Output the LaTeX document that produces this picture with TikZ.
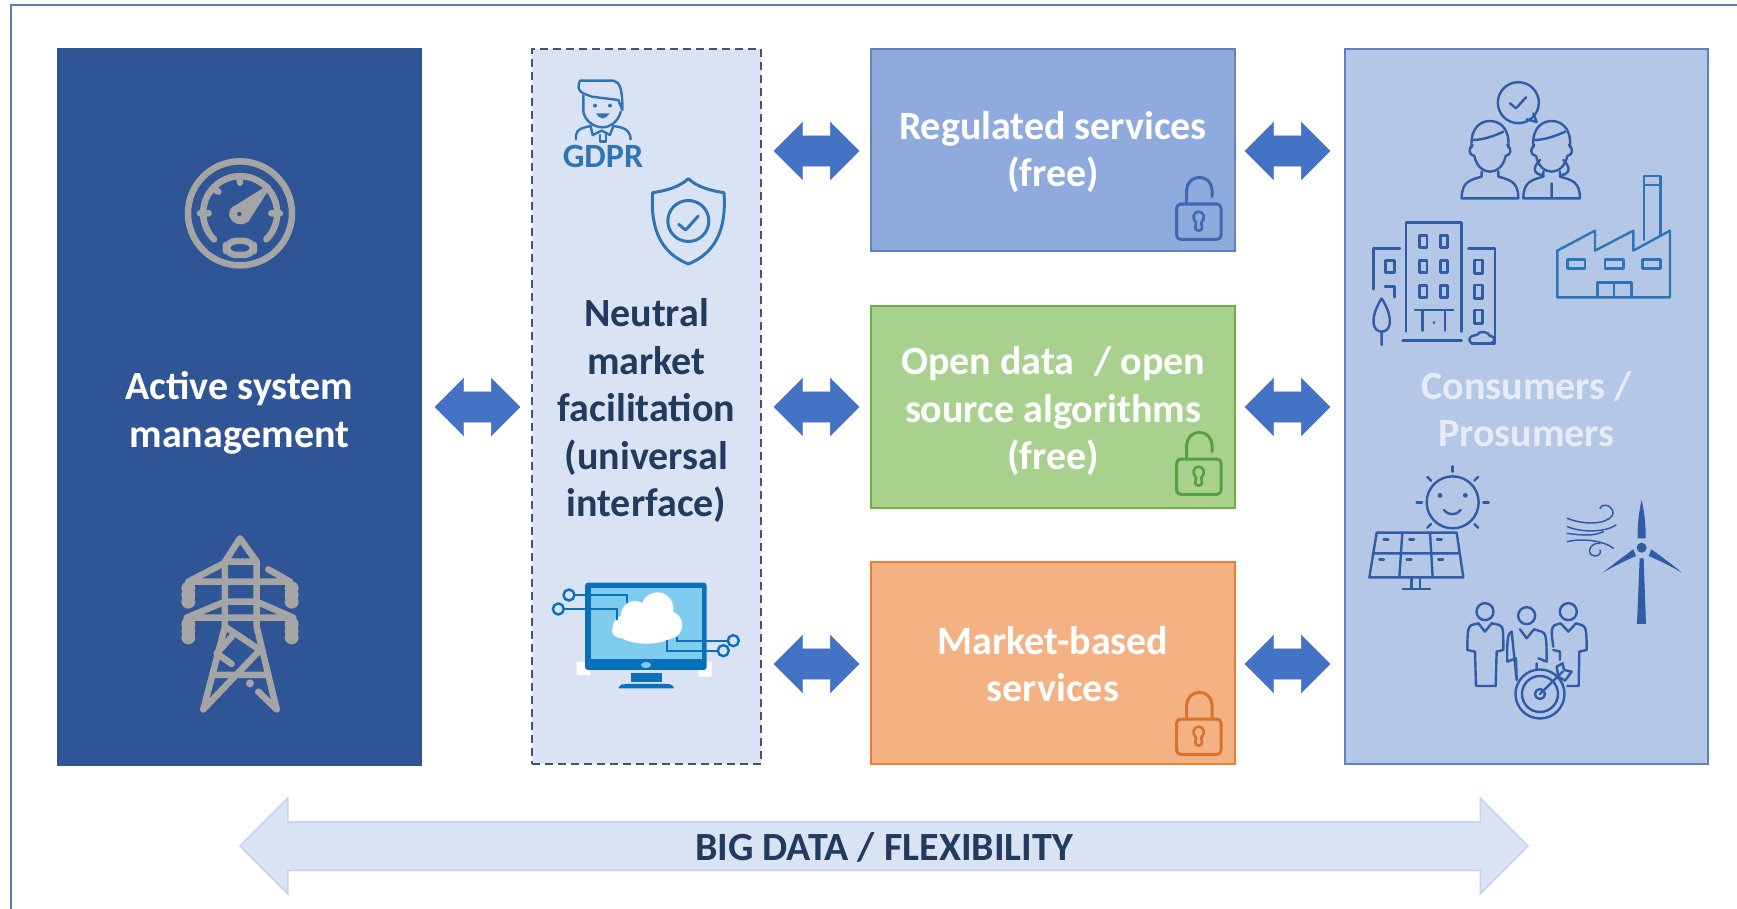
\documentclass[tikz,border=0pt]{standalone}
\usepackage{fontspec}
\setmainfont{Carlito}
\usepackage{tikz}
\usetikzlibrary{shapes.arrows,positioning,calc}
\definecolor{framecol}{HTML}{5B7DB5}
\definecolor{asmblue}{HTML}{2F5597}
\definecolor{palefill}{HTML}{DAE3F3}
\definecolor{dashcol}{HTML}{44546A}
\definecolor{regfill}{HTML}{8FAADC}
\definecolor{regline}{HTML}{5F82BC}
\definecolor{openfill}{HTML}{A9D18E}
\definecolor{openline}{HTML}{70AD47}
\definecolor{mktfill}{HTML}{F4B183}
\definecolor{mktline}{HTML}{ED7D31}
\definecolor{conslfill}{HTML}{B4C7E7}
\definecolor{arrowcol}{HTML}{4472C4}
\definecolor{bigline}{HTML}{C5D3EC}
\definecolor{iconblue}{HTML}{2F5CA5}
\definecolor{icontwo}{HTML}{2E75B6}
\definecolor{icongrey}{HTML}{A5A5A5}
\definecolor{screencol}{HTML}{7FCDEE}
\definecolor{pccol}{HTML}{0A70BC}
\definecolor{lockgreen}{HTML}{55A040}
\definecolor{lockorange}{HTML}{D9722C}
\definecolor{lockblue}{HTML}{3F68B0}
\definecolor{greytext}{HTML}{E6ECF7}
\definecolor{darktext}{HTML}{223A5E}
\tikzset{
    block/.style = {draw, rectangle, inner sep=0pt, line width=1.6pt},
    blocktext/.style = {align=center, inner sep=0pt, font=\fontsize{40}{47.5}\selectfont\bfseries},
    flow/.style = {shape=double arrow, fill=arrowcol, draw=arrowcol, inner xsep=0pt, inner ysep=15pt, minimum height=85pt, minimum width=57pt,
        double arrow head extend=13.5pt, double arrow tip angle=90},
    icon/.style 2 args = {shift={(#1,#2)}, x=.3333pt, y=-.3333pt},
    iconline/.style = {line width=#1, line cap=round, line join=round}
}
% the shackle goes on top of the body
\def\lockbody#1{%
    \draw [#1,iconline=3pt,rounded corners=4pt] (110,132) rectangle (243,238);
    \draw [#1,iconline=2.6pt] (168,188) .. controls (155,175) and (160,155) .. (176,155) .. controls (192,155) and (197,175) .. (184,188) -- (186,205) .. controls (184,214) and (168,214) .. (166,205) -- cycle;
}
\begin{document}
\begin{tikzpicture}[x=1pt,y=-1pt]
    \useasboundingbox (0,0) rectangle (1737,908);
    \draw [framecol,line width=2pt] (11,930) -- (11,5) -- (1760,5);

    % main blocks
    \node [block,draw=asmblue,fill=asmblue,minimum width=363pt,minimum height=716pt] (asm) at (239.5,407) {};
    \node [block,draw=dashcol,fill=palefill,line width=2.4pt,minimum width=229pt,minimum height=715pt,dash pattern=on 8pt off 5pt] (nmf) at (646.5,406.5) {};
    \node [block,draw=regline,fill=regfill,minimum width=364pt,minimum height=202pt] (reg) at (1053,150) {};
    \node [block,draw=openline,fill=openfill,minimum width=364pt,minimum height=202pt] (open) at (1053,407) {};
    \node [block,draw=mktline,fill=mktfill,minimum width=364pt,minimum height=202pt] (mkt) at (1053,663) {};
    \node [block,draw=regline,fill=conslfill,minimum width=363pt,minimum height=715pt] (cons) at (1526.5,406.5) {};

    \node [blocktext,text=white] (asmtext) at ($(asm.center)+(0,6)$) {Active system\\management};
    \node [blocktext,text=darktext] (nmftext) at ($(nmf.center)+(0,4)$) {Neutral\\market\\facilitation\\(universal\\interface)};
    \node [blocktext,text=white] (regtext) at ($(reg.center)+(0,2)$) {Regulated services\\(free)};
    \node [blocktext,text=white] (opentext) at ($(open.center)+(0,4)$) {Open data\hspace{.5em}/ open\\source algorithms\\(free)};
    \node [blocktext,text=white] (mkttext) at ($(mkt.center)+(0,1)$) {Market-based\\services};
    \node [blocktext,text=greytext] (constext) at ($(cons.center)+(0,2.5)$) {Consumers /\\Prosumers};

    % arrows between the blocks
    \node [flow] (asmnmf) at (477.5,407) {};
    \foreach \a/\y in {reg/151,open/407,mkt/664}{
        \node [flow] (nmf\a) at (816.5,\y) {};
        \node [flow] (\a cons) at (1287.5,\y) {};
    }
    % big arrow
    \node [shape=double arrow,fill=palefill,draw=bigline,line width=1.5pt,inner xsep=0pt,inner ysep=6pt,text height=32pt,text depth=3pt,minimum height=1288pt,minimum width=94pt,
        double arrow head extend=23.5pt,double arrow tip angle=90,font=\fontsize{40}{40}\selectfont\bfseries,text=darktext] (bigdata) at (884,846) {BIG DATA / FLEXIBILITY};

    % locks
    \begin{scope}[icon={1140}{160}]
        \lockbody{lockblue}
        \draw [lockblue,iconline=3pt] (140,132) -- (140,90) arc (180:0:12.7pt) -- (216,110);
    \end{scope}
    \begin{scope}[icon={1140}{415}]
        \lockbody{lockgreen}
        \draw [lockgreen,iconline=3pt] (140,132) -- (140,90) arc (180:0:12.7pt) -- (216,110);
    \end{scope}
    \begin{scope}[icon={1140}{675}]
        \lockbody{lockorange}
        \draw [lockorange,iconline=3pt] (140,132) -- (140,90) arc (180:0:12.7pt) -- (216,132);
    \end{scope}

    % gauge
    \begin{scope}[icon={150}{130},icongrey,iconline=6.5pt]
        \draw (270,250) circle (52pt);
        \draw (192,328) arc (225:-45:37pt);
        \draw [rounded corners=10pt] (228,333) rectangle (312,375);
        \draw (270,145) -- (270,158) (192,178) -- (205,185) (150,250) -- (176,250) (390,250) -- (364,250);
        \draw [line width=3pt,fill=icongrey,even odd rule] (358,168) -- (298,262) .. controls (290,285) and (250,285) .. (242,255) .. controls (241,240) and (250,232) .. (262,228) -- cycle (268,252) circle (4pt);
    \end{scope}

    % pylon
    \begin{scope}[icon={150}{520},icongrey,iconline=6.5pt]
        \draw (160,568) -- (225,320) -- (225,125) -- (270,55) -- (320,125) -- (320,320) -- (380,568) (225,125) -- (320,125);
        \draw (225,128) -- (115,185) -- (420,185) -- (355,148);
        \draw (225,245) -- (110,293) -- (430,293) -- (320,245) -- (225,245);
        \foreach \x in {115,425}{
            \foreach \y in {205,225,245,312,332,352}{
                \fill (\x,\y) circle (7pt);
            }
        }
        \draw (225,320) -- (330,390) -- (160,568) (200,400) -- (245,350) (200,400) -- (245,432) (190,465) -- (345,465) (325,515) -- (380,568);
        \fill (300,490) circle (4pt);
    \end{scope}

    % GDPR man
    \begin{scope}[icon={520}{40},icontwo,iconline=2.4pt]
        \draw (180,122) -- (280,122) .. controls (300,125) and (308,150) .. (307,210) -- (295,180) -- (215,170) -- (190,160) .. controls (170,150) and (175,135) .. cycle;
        \draw (190,165) -- (190,215) .. controls (195,245) and (225,262) .. (247,262) .. controls (270,262) and (295,245) .. (302,215);
        \draw (168,298) -- (168,285) .. controls (170,265) and (195,262) .. (212,258) -- (218,285) -- (245,272) -- (270,285) -- (280,258) .. controls (305,262) and (330,265) .. (332,298);
        \draw (240,285) -- (240,305) -- (258,305) -- (258,285);
        \fill (225,197) circle (2pt) (270,197) circle (2pt);
        \fill (228,220) .. controls (240,240) and (258,240) .. (268,220) -- cycle;
    \end{scope}
    \node [text=icontwo,font=\fontsize{34}{34}\selectfont\bfseries,inner sep=0pt] (gdpr) at (603,156) {GDPR};

    % shield
    \begin{scope}[icon={520}{40},icontwo,iconline=3pt]
        \draw (505,416) .. controls (530,440) and (570,452) .. (612,458) .. controls (620,570) and (585,640) .. (505,672) .. controls (425,640) and (390,570) .. (398,458) .. controls (440,452) and (480,440) .. cycle;
        \draw (505,543) circle (20.5pt);
        \draw (476,553) -- (497,570) -- (535,528);
    \end{scope}

    % computer
    \begin{scope}[icon={520}{560}]
        \fill [white] (170,305) rectangle (210,345) (535,305) rectangle (575,350);
        \fill [pccol,rounded corners=3pt] (195,68) rectangle (560,330);
        \fill [screencol] (212,85) rectangle (545,297);
        \fill [pccol] (332,338) rectangle (425,365);
        \fill [pccol] (295,385) .. controls (300,372) and (310,372) .. (320,372) -- (440,372) .. controls (450,372) and (460,375) .. (462,385) -- cycle;
        \fill [screencol] (378,315) ellipse (5pt and 3pt);
        \fill [white] (300,210) circle (8pt) (345,165) circle (14pt) (412,145) circle (16pt) (445,195) circle (14pt) (380,200) ellipse (34pt and 17pt);
        \draw [pccol,line width=2.2pt] (147,105) -- (322,105) -- (322,130) (115,147) -- (292,147) -- (292,180)
            (470,232) -- (470,242) -- (640,242) (442,240) -- (442,272) -- (610,272);
        \draw [pccol,line width=2.4pt,fill=palefill] (147,105) circle (5.5pt) (115,147) circle (5.5pt) (640,242) circle (5.5pt) (610,272) circle (5.5pt);
    \end{scope}

    % two people
    \begin{scope}[icon={1340}{60},iconblue,iconline=2.4pt]
        \draw (535,128) ellipse (20.5pt and 20.5pt);
        \draw (560,178) -- (590,186) -- (580,160);
        \draw (510,130) -- (528,145) -- (558,112);
        \foreach \x in {450,635}{
            \draw (\x-55,262) .. controls (\x-60,200) and (\x-25,183) .. (\x,183) .. controls (\x+25,183) and (\x+60,200) .. (\x+55,262);
            \draw (\x-50,240) .. controls (\x-20,240) and (\x+20,225) .. (\x+40,215);
            \draw (\x-52,255) .. controls (\x-65,265) and (\x-65,285) .. (\x-47,288) .. controls (\x-40,320) and (\x-20,335) .. (\x,335)
                .. controls (\x+20,335) and (\x+40,320) .. (\x+47,288) .. controls (\x+65,285) and (\x+65,265) .. (\x+52,255);
            \draw (\x-25,335) -- (\x-25,350) .. controls (\x-60,360) and (\x-85,365) .. (\x-85,415) -- (\x+85,415) .. controls (\x+85,365) and (\x+60,360) .. (\x+25,350) -- (\x+25,335);
        }
        \draw (600,300) .. controls (570,330) and (590,345) .. (605,345) (670,300) .. controls (700,330) and (680,345) .. (665,345) (635,370) -- (635,410);
        % building
        \draw (198,815) -- (198,488) -- (365,488) -- (365,815);
        \draw (180,565) -- (100,565) -- (100,688) (385,565) -- (465,565) -- (465,850) -- (395,850) (135,680) -- (163,680) -- (163,712) (188,842) -- (365,842);
        \foreach \x in {250,312}{
            \foreach \y in {545,620,695}{
                \draw (\x-11,\y-18) rectangle (\x+11,\y+18);
            }
        }
        \foreach \y in {620,695,770}{
            \draw (403,\y-20) rectangle (428,\y+20);
        }
        \draw (137,602) rectangle (163,638);
        \draw (225,750) -- (340,750) (248,750) -- (248,812) (315,750) -- (315,812);
        \fill (282,788) circle (1.5pt);
        \draw (125,715) .. controls (85,780) and (100,815) .. (125,815) .. controls (150,815) and (165,780) .. (125,715) (125,815) -- (125,855);
        \draw (395,850) .. controls (380,840) and (390,825) .. (410,825) .. controls (420,810) and (445,815) .. (450,828) .. controls (470,830) and (465,850) .. (450,850);
    \end{scope}
    % factory
    \begin{scope}[icon={1340}{60},icontwo,iconline=2.4pt]
        \draw (652,712) -- (652,572) -- (765,512) -- (765,572) -- (880,512) -- (880,572) -- (990,512) -- (990,712) -- cycle;
        \draw (912,540) -- (912,348) -- (962,348) -- (962,525) (912,375) -- (962,375);
        \draw (682,598) rectangle (735,625) (795,598) rectangle (850,625) (908,598) rectangle (962,625);
        \draw (772,712) -- (772,667) -- (875,667) -- (875,712) (822,667) -- (822,712);
    \end{scope}

    % sun and panel
    \begin{scope}[icon={1340}{450},iconblue,iconline=2.4pt]
        \draw (338,157) circle (26pt);
        \foreach \a in {0,45,135,180,225,270,315}{
            \draw ($(338,157)+(\a:92)$) -- ($(338,157)+(\a:108)$);
        }
        \fill (300,136) circle (2.4pt) (376,136) circle (2.4pt);
        \draw (312,180) .. controls (325,197) and (350,197) .. (362,180);
        \draw (110,248) -- (350,248) -- (370,382) -- (88,382) -- cycle;
        \draw (98,310) -- (360,310) (187,248) -- (178,382) (270,248) -- (278,382);
        \foreach \x/\y in {138/268,215/268,298/268,125/328,207/328,302/328}{
            \draw (\x-7,\y) -- (\x+7,\y);
        }
        \draw (215,382) -- (215,415) (240,382) -- (240,415) (188,417) -- (270,417);
    \end{scope}

    % wind turbine
    \begin{scope}[icon={1340}{450},iconblue,iconline=1.5pt]
        \fill (905,293) circle (5pt);
        \fill (905,150) .. controls (895,190) and (892,240) .. (893,265) -- (917,265) .. controls (918,240) and (915,190) .. cycle;
        \fill (788,368) .. controls (820,350) and (860,330) .. (888,318) -- (880,298) .. controls (850,320) and (810,350) .. cycle;
        \fill (1026,368) .. controls (995,350) and (955,330) .. (926,318) -- (934,298) .. controls (965,320) and (1005,350) .. cycle;
        \fill (899,325) -- (911,325) -- (918,522) -- (891,522) -- cycle;
        \draw (682,205) .. controls (730,225) and (800,225) .. (818,195) .. controls (825,170) and (790,155) .. (780,175);
        \draw (682,230) .. controls (730,250) and (800,245) .. (828,225);
        \draw (682,250) .. controls (720,255) and (760,260) .. (790,245);
        \draw (682,275) .. controls (720,265) and (790,270) .. (820,295);
        \draw (780,280) .. controls (750,275) and (735,315) .. (765,318) .. controls (775,318) and (785,310) .. (780,300);
    \end{scope}

    % team and target
    \begin{scope}[icon={1340}{450},iconblue,iconline=2.4pt]
        \foreach \x/\y in {435/0,560/12,685/0}{
            \draw (\x,485+\y) circle (8.5pt);
        }
        \draw (415,520) -- (435,545) -- (455,520) -- (478,525) .. controls (490,530) and (490,540) .. (490,600) -- (470,605) -- (467,708) -- (408,708) -- (405,605) -- (382,600) .. controls (382,540) and (385,530) .. (395,525) -- cycle;
        \draw (540,538) -- (560,565) -- (582,538) -- (605,545) .. controls (618,550) and (620,560) .. (620,635) -- (595,625) (590,640) -- (590,655) (530,690) -- (528,625) -- (502,635) .. controls (500,560) and (505,550) .. (515,545) -- cycle;
        \draw (662,520) -- (685,545) -- (708,520) -- (725,525) .. controls (738,530) and (740,540) .. (740,600) -- (718,605) -- (716,708) -- (682,708) (640,590) .. controls (632,540) and (635,530) .. (645,525) -- (662,520) (640,600) -- (660,605) -- (660,630);
        \draw [fill=conslfill] (600,732) circle (24.5pt);
        \draw (600,732) circle (18pt);
        \draw (600,732) circle (5pt);
        \draw (600,732) -- (668,665);
        \draw (650,650) -- (668,640) -- (672,660) -- (695,665) -- (675,692) -- (655,680) -- cycle;
    \end{scope}
\end{tikzpicture}
\end{document}
